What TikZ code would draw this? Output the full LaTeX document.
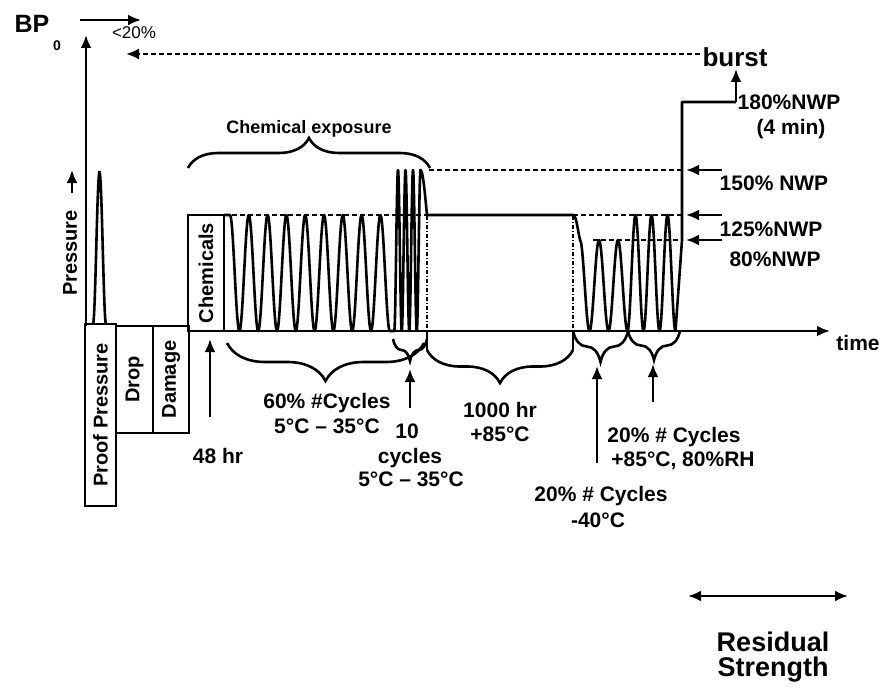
\documentclass[tikz,border=0pt]{standalone}
\usepackage{fontspec}
\setmainfont{Liberation Sans}
\usetikzlibrary{arrows.meta,decorations.pathreplacing}
\begin{document}
\begin{tikzpicture}[x=1pt,y=-1pt,
  ln/.style={line width=2.6pt},
  arr/.style={-{Latex[length=13pt,width=11pt]}},
  darr/.style={{Latex[length=13pt,width=11pt]}-{Latex[length=13pt,width=11pt]}},
  lbl/.style={font=\fontsize{21}{24}\selectfont\bfseries, inner sep=0pt, anchor=base},
  dsh/.style={line width=2pt, dash pattern=on 5pt off 3pt},
  dd/.style={line width=1.4pt, dash pattern=on 4pt off 2pt on 1pt off 2pt},
  brc/.style={line width=2.6pt, decorate, decoration={brace, amplitude=#1}},
  boxlbl/.style={draw, line width=2.4pt, rotate=90, inner sep=0pt,
     font=\fontsize{20}{22}\selectfont\bfseries},
]
\useasboundingbox (0,0) rectangle (882,690);

% axes
\draw[ln,arr] (86,326) -- (86,35);
\draw[ln,arr] (188,331) -- (830,331);
\draw[ln,arr] (80,20) -- (141,20);
\draw[ln,arr] (72,193) -- (72,170);

% boxes
\node[boxlbl, minimum width=182pt, minimum height=31pt] (proof) at (100.5,415) {Proof Pressure};
\node[boxlbl, minimum width=107pt, minimum height=37pt] (drop) at (134.5,379.5) {Drop};
\node[boxlbl, minimum width=107pt, minimum height=36pt] (damage) at (171,379.5) {Damage};
\node[boxlbl, minimum width=116pt, minimum height=36pt] (chem) at (206,273) {Chemicals};

% proof pressure spike
\draw[ln] plot[domain=93:106, samples=40] (\x,{324-152*(1-cos((360/13)*(\x-93)))/2});

% reference levels
\draw[dsh] (224,215) -- (427,215);
\draw[dsh] (429,170) -- (682,170);
\draw[dsh] (573,215) -- (682,215);
\draw[dsh] (593,240) -- (682,240);
\draw[dsh,arr] (700,54) -- (126,54);
\draw[dd] (427,216) -- (427,331);
\draw[dd] (573,216) -- (573,331);

% waveform
\draw[ln, line join=round] (224,215) -- (230,215)
  -- plot[domain=230:389.8, samples=300] (\x,{331-116*(1+cos((360/18.8)*(\x-230)))/2})
  -- plot[domain=394.25:420.5, samples=150] (\x,{331-161*(1+cos((360/7.5)*(\x-398)))/2})
  .. controls (423,170) and (425,195) .. (427,215)
  -- (573,215) .. controls (577,215) and (578,236) .. (581,242.5)
  -- plot[domain=581:627.5, samples=100] (\x,{331-91*(1+cos((360/19)*(\x-580)))/2})
  -- plot[domain=627.5:675.5, samples=120] (\x,{331-116*(1+cos((360/16)*(\x-635.5)))/2})
  -- (682,240) -- (682,102) -- (736,102);
\draw[ln,arr] (736,102) -- (736,69);

% right-side level arrows
\draw[ln,arr] (722,170) -- (686,170);
\draw[ln,arr] (722,215) -- (686,215);
\draw[ln,arr] (722,240) -- (686,240);

% braces
\draw[brc=30] (188,168) -- (430,168);
\draw[brc=38] (424,343) -- (227,343);
\draw[brc=22] (427,339) -- (393,339);
\draw[ln] (427,331) -- (427,350);
\draw[ln] (573,331) -- (573,350);
\draw[brc=33] (573,350) -- (427,350);
\draw[brc=31] (628,331) -- (573,331);
\draw[brc=29] (680,331) -- (628,331);

% pointer arrows
\draw[ln,arr] (210,417) -- (210,339);
\draw[ln,arr] (410,408) -- (410,369);
\draw[ln,arr] (597,463) -- (597,366);
\draw[ln,arr] (653,402) -- (653,364);
\draw[ln,darr] (688,596) -- (848,596);

% labels
\node[lbl, font=\fontsize{25}{28}\selectfont\bfseries] (bp) at (32,33) {BP};
\node[lbl, font=\fontsize{14}{16}\selectfont\bfseries] (bpsub) at (57,51) {0};
\node[lbl, font=\fontsize{17}{20}\selectfont] (lt20) at (134,39) {<20\%};
\node[font=\fontsize{20}{22}\selectfont\bfseries, rotate=90, inner sep=0pt] (press) at (70,253) {Pressure};
\node[lbl, font=\fontsize{18}{20}\selectfont\bfseries] (chemexp) at (309,133) {Chemical exposure};
\node[lbl, font=\fontsize{26}{30}\selectfont\bfseries] (burst) at (735,67) {burst};
\node[lbl] (n180) at (789,110) {180\%NWP};
\node[lbl] (n4min) at (791,134) {(4 min)};
\node[lbl] (n150) at (774,190) {150\% NWP};
\node[lbl] (n125) at (771,236) {125\%NWP};
\node[lbl] (n80) at (775,266) {80\%NWP};
\node[lbl] (time) at (858,350) {time};
\node[lbl] (h48) at (218,463) {48 hr};
\node[lbl] (c60a) at (327,408) {60\% \#Cycles};
\node[lbl] (c60b) at (327,433) {5°C – 35°C};
\node[lbl] (c10a) at (407,438) {10};
\node[lbl] (c10b) at (410,463) {cycles};
\node[lbl] (c10c) at (411,486) {5°C – 35°C};
\node[lbl] (h1000a) at (500,417) {1000 hr};
\node[lbl] (h1000b) at (500,441) {+85°C};
\node[lbl] (c85a) at (674,442) {20\% \# Cycles};
\node[lbl] (c85b) at (683,466) {+85°C, 80\%RH};
\node[lbl] (c40a) at (601,501) {20\% \# Cycles};
\node[lbl] (c40b) at (598,527) {-40°C};
\node[lbl, font=\fontsize{27}{30}\selectfont\bfseries] (resid) at (773,651) {Residual};
\node[lbl, font=\fontsize{27}{30}\selectfont\bfseries] (strength) at (773,676) {Strength};
\end{tikzpicture}
\end{document}
